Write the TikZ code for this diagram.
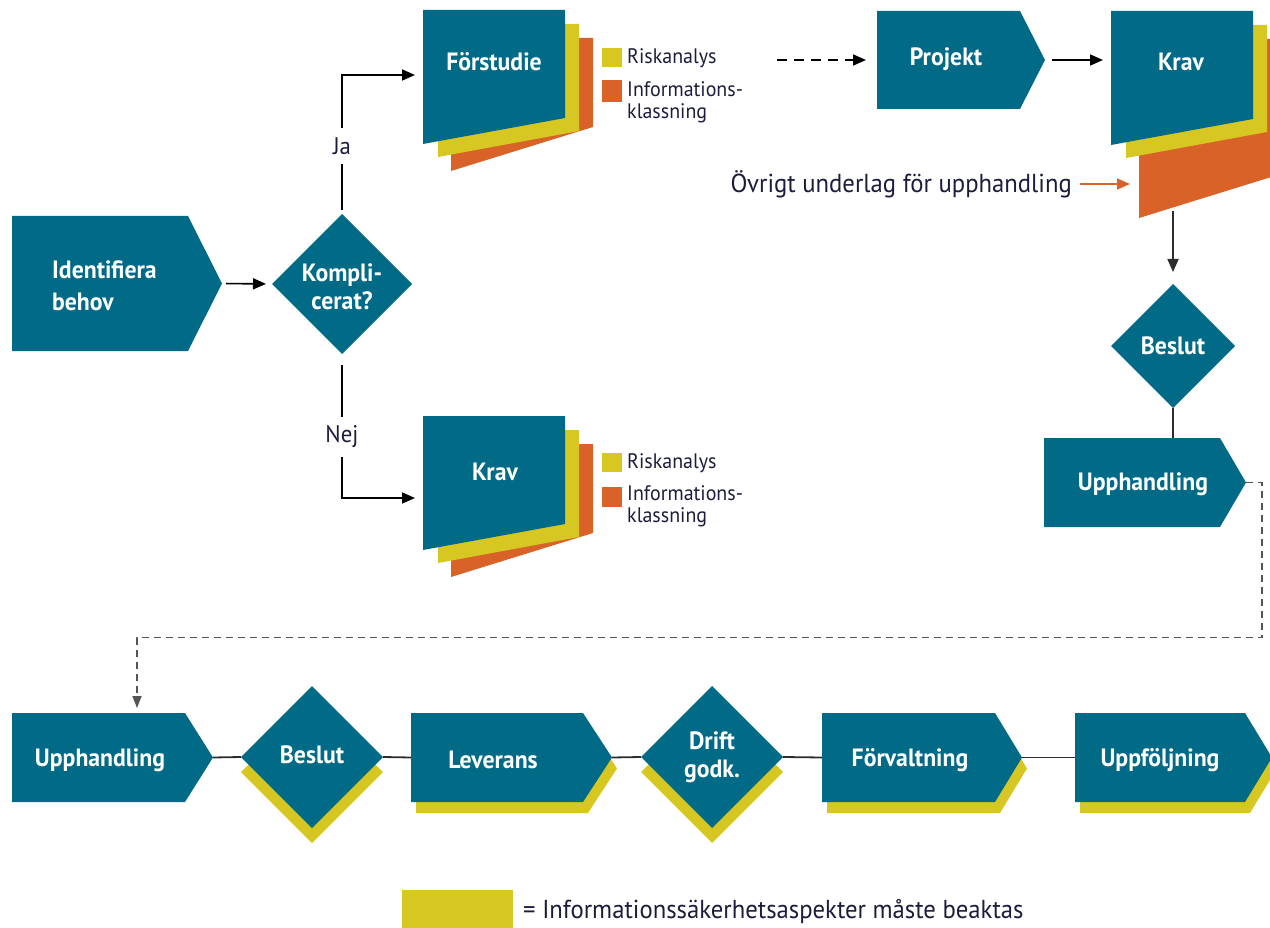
\documentclass[tikz,border=0pt]{standalone}
\usepackage{fontspec}
\setmainfont{PT Sans}[FakeStretch=0.95]
\usetikzlibrary{arrows.meta}
\definecolor{cblue}{RGB}{0,106,135}
\definecolor{cyel}{RGB}{214,199,34}
\definecolor{corg}{RGB}{217,98,40}
\definecolor{ctxt}{RGB}{28,28,60}
\definecolor{cline}{RGB}{45,45,45}
\definecolor{cdash}{RGB}{85,85,85}
% chevron: name, xleft, xstraight, xtip, ytop, ybottom
\newcommand\mychev[6]{%
  \fill[cblue] (#2,#5) -- (#3,#5) -- (#4,{(#5+#6)/2}) -- (#3,#6) -- (#2,#6) -- cycle;
  \coordinate (#1-w) at (#2,{(#5+#6)/2});
  \coordinate (#1-e) at (#4,{(#5+#6)/2});
  \coordinate (#1-c) at ({(#2+#3)/2},{(#5+#6)/2});
}
\newcommand\mychevshadow[5]{%
  \fill[cyel] ({#1+5},{#4+11}) -- ({#2+5},{#4+11}) -- ({#3+5},{(#4+#5)/2+11}) -- ({#2+5},{#5+11}) -- ({#1+5},{#5+11}) -- cycle;
}
% diamond: name, cx, cy, half-size
\newcommand\mydiam[4]{%
  \fill[cblue] ({#2-#4},#3) -- (#2,{#3-#4}) -- ({#2+#4},#3) -- (#2,{#3+#4}) -- cycle;
  \coordinate (#1-w) at ({#2-#4},#3);
  \coordinate (#1-e) at ({#2+#4},#3);
  \coordinate (#1-n) at (#2,{#3-#4});
  \coordinate (#1-s) at (#2,{#3+#4});
  \coordinate (#1-c) at (#2,#3);
}
\newcommand\mydiamshadow[3]{%
  \fill[cyel] ({#1-#3},{#2+15}) -- (#1,{#2-#3+15}) -- ({#1+#3},{#2+15}) -- (#1,{#2+#3+15}) -- cycle;
}
% document stack: name, x, y, extra height of orange sheet
\newcommand\mydocs[4]{%
  \fill[corg] ({#2+28},{#3+28}) -- ({#2+170},{#3+28}) -- ({#2+170},{#3+135+#4-18}) -- ({#2+28},{#3+161+#4}) -- cycle;
  \fill[cyel] ({#2+15},{#3+14}) -- ({#2+156},{#3+14}) -- ({#2+156},{#3+121}) -- ({#2+15},{#3+147}) -- cycle;
  \fill[cblue] (#2,#3) -- ({#2+142},#3) -- ({#2+142},{#3+108}) -- (#2,{#3+134}) -- cycle;
  \coordinate (#1-c) at ({#2+71},{#3+52});
}
\begin{document}
\begin{tikzpicture}[x=1pt,y=-1pt,
  lbl/.style={text=white,font=\fontsize{25}{28}\selectfont\bfseries,align=center,inner sep=0pt},
  note/.style={text=ctxt,font=\fontsize{21}{22}\selectfont,align=left,inner sep=0pt},
  big/.style={text=ctxt,font=\fontsize{26}{28}\selectfont,inner sep=0pt},
  yn/.style={text=ctxt,font=\fontsize{24}{26}\selectfont,inner sep=9pt},
  arr/.style={-{Triangle[length=13pt,width=11pt]},line width=1.6pt,black},
  conn/.style={line width=1.8pt,cline},
  dashconn/.style={dash pattern=on 7pt off 5pt,line width=1.4pt,cdash,-{Triangle[length=12pt,width=9pt]}}]
\useasboundingbox (0,0) rectangle (1270,928);

% ---------- top part ----------
\mychev{ib}{12}{188}{222}{216}{351}
\node[lbl,align=left,anchor=west,font=\fontsize{25}{32}\selectfont\bfseries] (ibt) at (52,286) {Identifiera\\behov};

\mydiam{komp}{342}{284}{70}
\node[lbl] (kompt) at (342,287) {Kompli-\\cerat?};

\mydocs{fs}{423}{10}{0}
\node[lbl] (fst) at (494,62) {Förstudie};
\coordinate (fs-w) at (423,75);
\fill[cyel] (602,48) rectangle (622,67);
\fill[corg] (602,80) rectangle (622,102);
\node[note,anchor=west] (fsr) at (627,58) {Riskanalys};
\node[note,anchor=north west] (fsi) at (627,81) {Informations-\\klassning};

\mydocs{kr}{423}{416}{0}
\node[lbl] (krt) at (495,472) {Krav};
\coordinate (kr-w) at (423,498);
\fill[cyel] (602,453) rectangle (622,472);
\fill[corg] (602,487) rectangle (622,507);
\node[note,anchor=west] (krr) at (627,463) {Riskanalys};
\node[note,anchor=north west] (kri) at (627,485) {Informations-\\klassning};

\node[yn] (ja) at (342,146) {Ja};
\node[yn] (nej) at (342,437) {Nej};
\draw[conn,black,line width=1.6pt] (komp-n) ++(0,-4) -- (ja);
\draw[arr,shorten >=8pt] (ja) |- (fs-w);
\draw[conn,black,line width=1.6pt] (komp-s) ++(0,11) -- (nej);
\draw[arr,shorten >=8pt] (nej) |- (kr-w);
\draw[arr,shorten <=4pt,shorten >=6pt] (ib-e) -- (komp-w);

\mychev{pr}{877}{1020}{1045}{11}{109}
\node[lbl] (prt) at (946,59) {Projekt};
\coordinate (fs-out) at (777,60);
\draw[arr,dash pattern=on 10pt off 7pt,shorten >=11pt] (fs-out) -- (pr-w);

\mydocs{kk}{1111}{11}{46}
\node[lbl] (kkt) at (1181,62) {Krav};
\coordinate (kk-w) at (1111,60);
\coordinate (kk-ow) at (1139,184);
\coordinate (kk-s) at (1173,211);
\draw[arr,shorten <=7pt,shorten >=8pt] (pr-e) -- (kk-w);

\node[big,anchor=east] (ovr) at (1072,184) {Övrigt underlag för upphandling};
\draw[-{Triangle[length=13pt,width=11pt]},line width=1.5pt,corg,shorten <=8pt,shorten >=9pt] (ovr.east) -- (kk-ow);

\mydiam{bs}{1173}{346}{62}
\node[lbl] (bst) at (1173,346) {Beslut};
\draw[arr,cline,line width=1.8pt,shorten >=12pt] (kk-s) -- (bs-n);

\mychev{up}{1044}{1220}{1246}{438}{527}
\node[lbl] (upt) at (1143,484) {Upphandling};
\coordinate (up-n) at (1173,438);
\draw[conn] (bs-s) -- (up-n);

% ---------- bottom row ----------
\mychev{ub}{12}{185}{213}{713}{802}
\node[lbl] (ubt) at (100,760) {Upphandling};
\coordinate (ub-n) at (137,713);
\draw[dashconn,shorten >=5pt] (up-e) -- ++(16,0) -- ++(0,155) -| (ub-n);

\mydiamshadow{312}{757}{71}
\mydiam{b2}{312}{757}{71}
\node[lbl] (b2t) at (312,755) {Beslut};

\mychevshadow{411}{583}{612}{713}{802}
\mychev{lv}{411}{583}{612}{713}{802}
\node[lbl] (lvt) at (493,760) {Leverans};

\mydiamshadow{712}{757}{71}
\mydiam{dg}{712}{757}{71}
\node[lbl] (dgt) at (712,757) {Drift\\godk.};

\mychevshadow{822}{995}{1022}{713}{802}
\mychev{fv}{822}{995}{1022}{713}{802}
\node[lbl] (fvt) at (910,760) {Förvaltning};

\mychevshadow{1075}{1245}{1272}{713}{802}
\mychev{uf}{1075}{1245}{1272}{713}{802}
\node[lbl] (uft) at (1160,760) {Uppföljning};

\draw[conn] (ub-e) -- (b2-w);
\draw[conn] (b2-e) -- (lv-w);
\draw[conn] (lv-e) -- (dg-w);
\draw[conn] (dg-e) -- (fv-w);
\draw[conn] (fv-e) -- (uf-w);

% ---------- legend ----------
\fill[cyel] (402,890) rectangle (513,928);
\node[big,anchor=west] (leg) at (523,912) {= Informationssäkerhetsaspekter måste beaktas};
\end{tikzpicture}
\end{document}
